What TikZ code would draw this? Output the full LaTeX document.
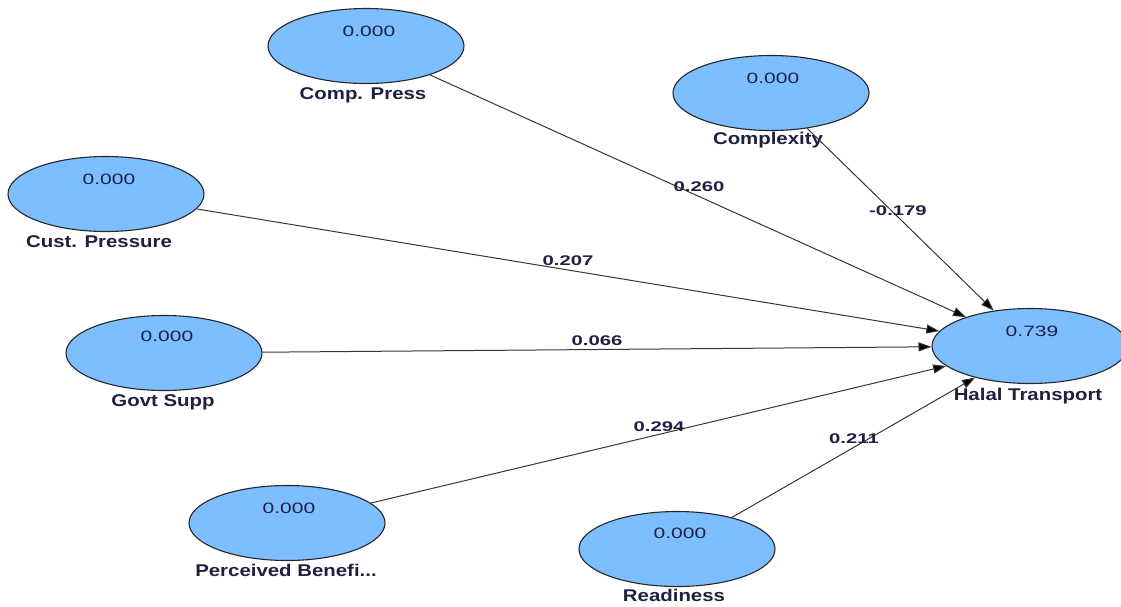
\documentclass[tikz,border=0pt]{standalone}
\usepackage{fontspec}
\setmainfont{Liberation Sans}
\newfontfamily\lblfont[FakeStretch=1.2]{Liberation Sans}
\newfontfamily\valfont[FakeStretch=1.4]{Liberation Sans}
\newfontfamily\coeffont[FakeStretch=1.45]{Liberation Sans}
\usetikzlibrary{shapes.geometric,arrows.meta}
\definecolor{latentfill}{RGB}{124,190,255}
\definecolor{inktext}{RGB}{30,32,64}
\definecolor{linkgray}{RGB}{55,55,55}
\tikzset{
  latent/.style={ellipse, draw=black!85, line width=1.1pt, fill=latentfill,
    minimum width=196pt, minimum height=75pt, inner sep=0pt},
  rsq/.style={font=\valfont\fontsize{15}{17}\selectfont, text=inktext, inner sep=0pt},
  vname/.style={font=\lblfont\bfseries\fontsize{17}{19}\selectfont, text=inktext,
    inner sep=0pt, anchor=base},
  coef/.style={font=\coeffont\bfseries\fontsize{14}{16}\selectfont, text=inktext, inner sep=0pt},
  path/.style={draw=linkgray, line width=1pt,
    -{Triangle[length=13pt,width=9pt,fill=black]}}
}
\begin{document}
\begin{tikzpicture}[x=1pt,y=-1pt]
\clip (0,0) rectangle (1121,606);
\useasboundingbox (0,0) rectangle (1121,606);

% latent variables
\node[latent] (cp) at (366,46) {};
\node[latent] (cx) at (771,93) {};
\node[latent] (cu) at (106,194) {};
\node[latent] (gs) at (164,353) {};
\node[latent] (ht) at (1030,346) {};
\node[latent] (pb) at (287,523) {};
\node[latent] (rd) at (677,549) {};

% R-squared values
\node[rsq] (cp-r) at (369,31) {0.000};
\node[rsq] (cx-r) at (773,78) {0.000};
\node[rsq] (cu-r) at (109,179) {0.000};
\node[rsq] (gs-r) at (167,336) {0.000};
\node[rsq] (ht-r) at (1032,331) {0.739};
\node[rsq] (pb-r) at (289,508) {0.000};
\node[rsq] (rd-r) at (680,533) {0.000};

% construct names
\node[vname] (cp-n) at (363,99) {Comp. Press};
\node[vname] (cx-n) at (768,144) {Complexity};
\node[vname] (cu-n) at (99,247) {Cust. Pressure};
\node[vname] (gs-n) at (163,406) {Govt Supp};
\node[vname] (ht-n) at (1028,400) {Halal Transport};
\node[vname] (pb-n) at (286,576) {Perceived Benefi...};
\node[vname] (rd-n) at (674,601) {Readiness};

% structural paths
\draw[path] (cp) -- (ht);
\draw[path] (cx) -- (ht);
\draw[path] (cu) -- (ht);
\draw[path] (gs) -- (ht);
\draw[path] (pb) -- (ht);
\draw[path] (rd) -- (ht);

% path coefficients
\node[coef] (cp-c) at (699,187) {0.260};
\node[coef] (cx-c) at (898,211) {-0.179};
\node[coef] (cu-c) at (568,261) {0.207};
\node[coef] (gs-c) at (597,341) {0.066};
\node[coef] (pb-c) at (659,427) {0.294};
\node[coef] (rd-c) at (854,439) {0.211};
\end{tikzpicture}
\end{document}
